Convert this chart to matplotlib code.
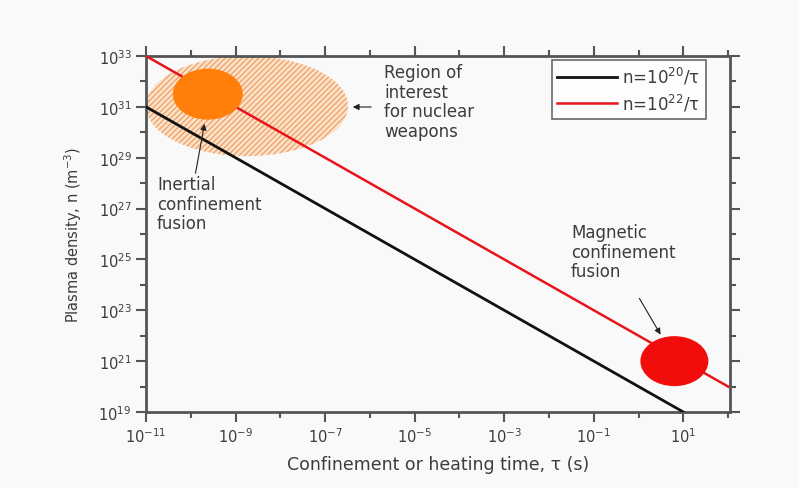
import numpy as np
import matplotlib
matplotlib.use("Agg")
import matplotlib.pyplot as plt
from matplotlib.patches import Ellipse
from matplotlib.transforms import ScaledTranslation

plt.rcParams["font.family"] = ["DejaVu Sans"]
plt.rcParams["mathtext.fontset"] = "dejavusans"
plt.rcParams["mathtext.default"] = "regular"
plt.rcParams["hatch.linewidth"] = 1.0

# Lawson-style density lines n = C / tau
tau = np.array([1e-11, 1e-9, 1e-7, 1e-5, 1e-3, 1e-1, 1e1, 1e2])
C_low = 1e20
C_high = 1e22
tau_low = tau[tau <= 10]
n_low = C_low / tau_low
n_high = C_high / tau

# Regions (centre tau, centre n)
icf_center = (2.4e-10, 10 ** 31.5)
weapons_center = (1.8e-9, 10 ** 31.03)
mcf_center = (6.3, 1e21)

x_major = [-11, -9, -7, -5, -3, -1, 1]
y_major = [19, 21, 23, 25, 27, 29, 31, 33]

text_col = "#3c3c3c"
bg = "#f8f9f8"

W, H = 798, 489
L, B, R, T = 146, 413, 730, 57

fig = plt.figure(figsize=(W / 100, H / 100), dpi=100, facecolor=bg)
ax = fig.add_axes([L / W, 1 - B / H, (R - L) / W, (B - T) / H])
ax.set_facecolor(bg)
ax.set_xscale("log")
ax.set_yscale("log")
ax.set_xlim(1e-11, 1.1e2)
ax.set_ylim(1e19, 1e33)


def px(x, y):
    # pixel position on the canvas -> axes fraction
    return ((x - L) / (R - L), (B - y) / (B - T))


def ellipse_at(center, w_in, h_in, **kw):
    tr = fig.dpi_scale_trans + ScaledTranslation(center[0], center[1], ax.transData)
    e = Ellipse((0, 0), w_in, h_in, transform=tr, **kw)
    ax.add_patch(e)
    return e


# hatched region of interest
ellipse_at(weapons_center, 2.02, 1.0, facecolor="#fbe3cc", edgecolor="none", zorder=1)
ellipse_at(weapons_center, 2.02, 1.0, facecolor="none", edgecolor="#f2a36a",
           hatch="//////", linewidth=0, zorder=1.1)

ax.plot(tau_low, n_low, color="#111111", lw=2.0, label=r"n=10$^{20}$/τ", zorder=3)
ax.plot(tau, n_high, color="#e8141b", lw=1.8, label=r"n=10$^{22}$/τ", zorder=3)

ellipse_at(icf_center, 0.70, 0.51, facecolor="#ff7f0a", edgecolor="none", zorder=4)
ellipse_at(mcf_center, 0.68, 0.50, facecolor="#f20d0d", edgecolor="none", zorder=4)

fs = 12
for (x0, y0), s in [((384, 64), "Region of\ninterest\nfor nuclear\nweapons"),
                    ((157, 176), "Inertial\nconfinement\nfusion"),
                    ((571, 224), "Magnetic\nconfinement\nfusion")]:
    ax.text(*px(x0, y0), s, transform=ax.transAxes, fontsize=fs, color=text_col,
            va="top", linespacing=1.12)

arrow = dict(arrowstyle="-|>", color="#222222", lw=0.8, mutation_scale=9)
for head, tail in [((205, 122), (195, 177)),
                   ((350, 108), (374, 108)),
                   ((662, 338), (638, 297))]:
    ax.annotate("", xy=px(*head), xytext=px(*tail), xycoords="axes fraction",
                textcoords="axes fraction", arrowprops=arrow)

ax.set_xticks([10.0 ** e for e in x_major])
ax.set_xticklabels([f"$10^{{{e}}}$" for e in x_major])
ax.set_xticks([10.0 ** e for e in range(-10, 3, 2)], minor=True)
ax.set_yticks([10.0 ** e for e in y_major])
ax.set_yticklabels([f"$10^{{{e}}}$" for e in y_major])
ax.set_yticks([10.0 ** e for e in range(20, 33, 2)], minor=True)
ax.xaxis.set_minor_formatter(plt.NullFormatter())
ax.yaxis.set_minor_formatter(plt.NullFormatter())
ax.tick_params(which="both", direction="out", top=True, right=True, colors="#555555",
               labelcolor=text_col, labelsize=10.5, width=1.5)
ax.tick_params(which="major", length=7)
ax.tick_params(which="minor", length=4)
for s in ax.spines.values():
    s.set_color("#555555")
    s.set_linewidth(2)

ax.set_xlabel("Confinement or heating time, τ (s)", fontsize=12.5, color=text_col, labelpad=7)
ax.set_ylabel(r"Plasma density, n (m$^{-3}$)", fontsize=10.5, color=text_col, labelpad=10)

leg = ax.legend(loc="upper right", bbox_to_anchor=px(706, 61), fontsize=12,
                frameon=True, fancybox=False, handlelength=3.6, borderpad=0.35,
                labelspacing=0.3, handletextpad=0.3, borderaxespad=0)
leg.get_frame().set_edgecolor("#444444")
leg.get_frame().set_linewidth(1.2)
leg.get_frame().set_facecolor("white")
for t in leg.get_texts():
    t.set_color(text_col)

fig.savefig("out.png", dpi=100, facecolor=bg)
